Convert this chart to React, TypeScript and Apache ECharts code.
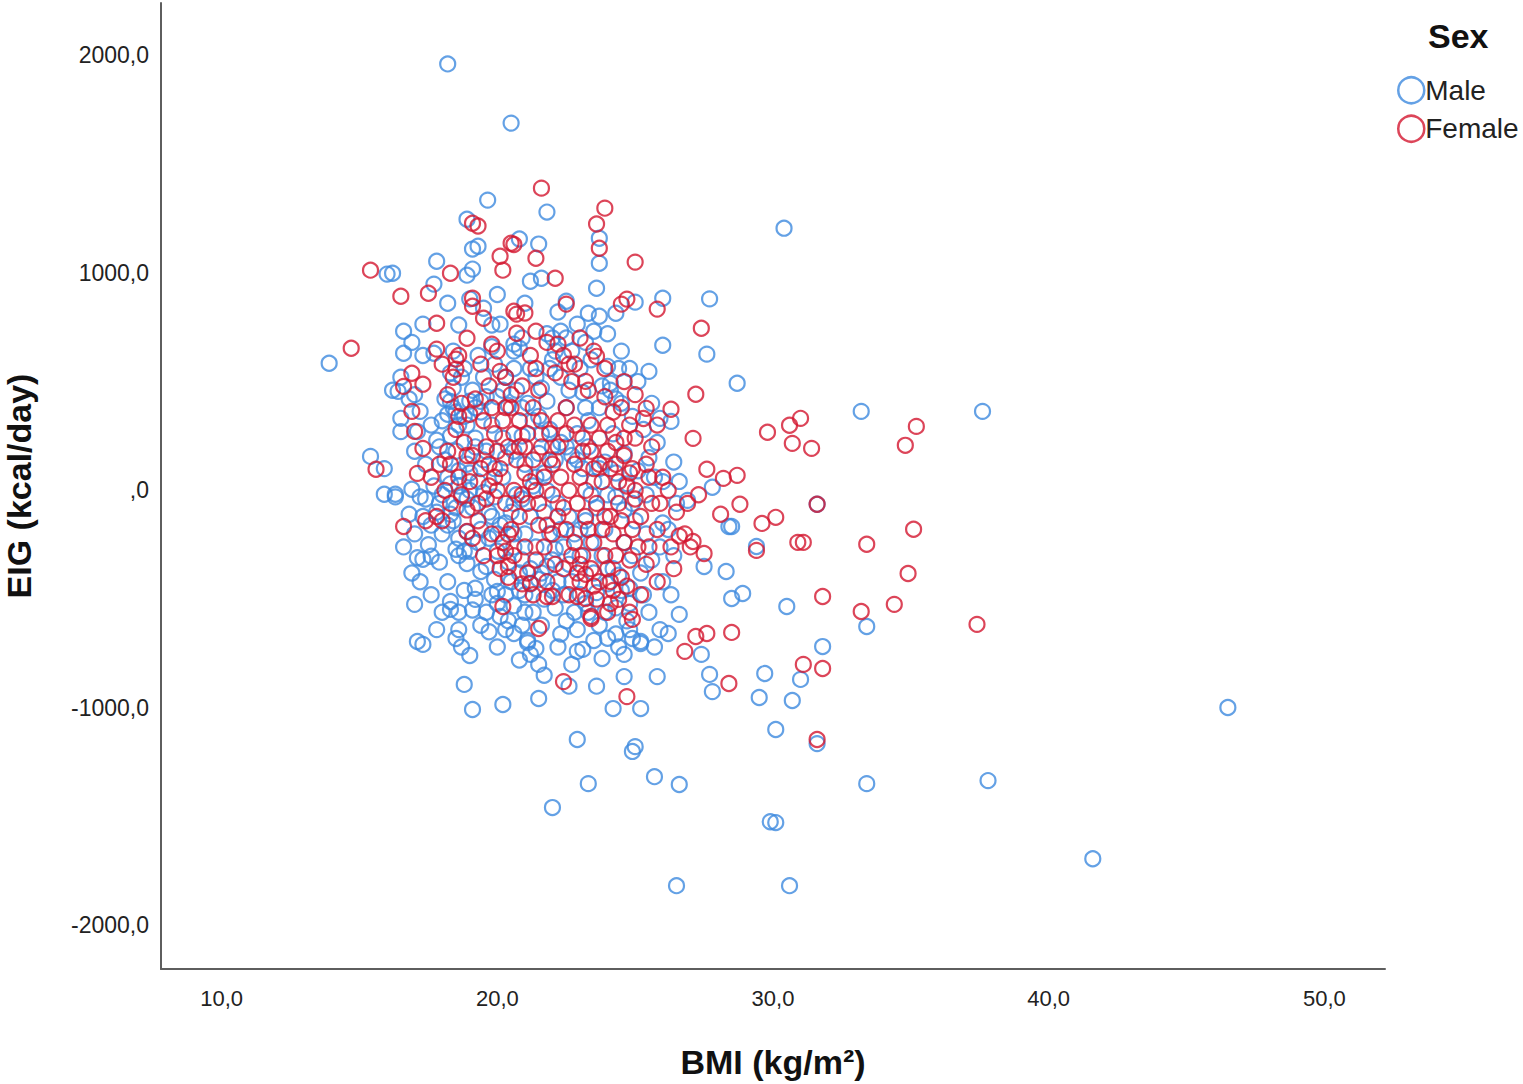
import React, { useEffect, useRef } from "react";
import * as echarts from "echarts";

// ---------- data (BMI kg/m², EIG kcal/day) ----------
const MALE_OUTER: number[][] = [
  [18.2,1960],[20.5,1688],[19.65,1334],[21.8,1279],[30.4,1205],[18.9,1246],[19.3,1122],[19.1,1109],[20.8,1155],[21.5,1132],
  [23.7,1159],[23.7,1044],[17.8,1053],[16.0,994],[16.2,998],[18.9,989],[19.1,1017],[21.2,961],[21.6,975],[23.6,929],
  [17.7,948],[26.0,883],[27.7,880],[25.0,865],[24.3,814],[22.5,869],[23.3,814],[16.6,731],[17.3,764],[23.5,731],
  [26.0,667],[27.6,626],[16.6,630],[13.9,584],[25.5,547],[17.7,630],[16.4,455],[18.3,409],[18.2,350],[19.5,837],
  [20.1,764],[22.3,731],[22.9,764],[20.6,672],[20.8,653],[22.0,700],[22.1,640],[16.5,331],[17.2,363],[15.4,156],
  [24.0,570],[26.6,41],[27.8,14],[16.5,270],[17.1,270],[19.4,409],[19.2,380],[28.7,492],[24.1,492],[33.2,363],
  [37.6,363],[26.3,317],[25.9,331],[26.9,-46],[31.6,-64],[28.4,-166],[26.0,-150],
  [15.9,-18],[16.3,-18],[16.9,5],[16.8,-110],[17.3,-317],[17.6,-303],[18.5,-271],[18.8,-280],[18.9,-336],
  [19.4,-373],[17.0,-524],[18.3,-511],[18.3,-547],[19.2,-501],[20.0,-465],[17.1,-695],[17.3,-708],[18.5,-681],
  [19.0,-759],[18.8,-892],[19.1,-1007],[20.2,-984],[21.5,-957],[20.6,-658],[21.2,-754],[21.5,-800],[22.9,-1145],
  [25.0,-1178],[24.9,-1200],[23.3,-1348],[22.0,-1458],[25.7,-1316],[26.6,-1352],[24.2,-1003],[25.2,-1003],
  [24.6,-856],[25.8,-856],[23.8,-773],[24.6,-754],[22.7,-800],[23.1,-731],[26.6,-570],[26.2,-658],[27.4,-754],
  [27.7,-846],[27.8,-925],[25.2,-695],[24.9,-681],[22.9,-740],[21.4,-727],[21.1,-700],[28.5,-166],[27.5,-350],
  [28.3,-373],[28.5,-497],[28.9,-474],[30.5,-534],[24.8,-640],[25.2,-704],[24.3,-660],[29.7,-842],[31.0,-869],
  [29.5,-952],[30.7,-966],[30.1,-1099],[31.8,-718],[33.4,-626],[31.6,-1164],[33.4,-1348],[37.8,-1334],
  [29.9,-1523],[30.1,-1527],[29.4,-258],[26.5,-1817],[30.6,-1817],[46.5,-998],[41.6,-1693],
];

const MALE_CORE: number[][] = [
  [18.1,420],[18.4,380],[18.6,300],[18.3,250],[18.8,340],[19.0,410],[18.5,180],[18.9,120],[18.2,60],[18.7,-30],
  [19.1,-80],[18.4,-140],[18.9,-190],[19.3,-240],[18.6,-300],[19.6,-350],[19.9,-410],[19.2,-450],[20.3,-480],[20.6,-530],
  [20.1,-580],[20.9,-620],[21.3,-560],[21.7,-500],[22.1,-540],[22.5,-600],[22.8,-560],[23.2,-520],[23.6,-470],[24.0,-430],
  [24.4,-390],[24.8,-450],[25.2,-380],[25.6,-320],[25.9,-260],[25.4,-200],[25.0,-140],[24.6,-90],[24.3,-30],[24.7,30],
  [25.1,90],[25.5,150],[25.8,220],[25.3,280],[24.9,340],[24.5,400],[24.1,460],[23.7,380],[23.3,320],[22.9,260],
  [22.5,200],[22.1,140],[21.7,80],[21.3,20],[20.9,-40],[20.5,-100],[20.1,-160],[19.7,-220],[20.0,-280],[20.4,-330],
  [20.8,-380],[21.2,-430],[21.6,-380],[22.0,-320],[22.4,-260],[22.8,-200],[23.2,-140],[23.6,-80],[24.0,-20],[23.5,40],
  [23.1,100],[22.7,160],[22.3,220],[21.9,280],[21.5,340],[21.1,400],[20.7,460],[20.3,520],[19.9,580],[19.5,520],
  [19.1,460],[19.4,360],[19.8,300],[20.2,240],[20.6,180],[21.0,120],[21.4,60],[21.8,0],[22.2,-60],[22.6,-120],
  [23.0,-180],[23.4,-240],[23.8,-300],[24.2,-360],[24.6,-240],[24.9,-300],[23.9,-180],[23.0,-300],[22.2,-420],[21.4,-260],
  [20.6,-200],[19.8,-120],[19.5,-10],[20.2,60],[20.9,250],[21.6,470],[22.3,520],[22.7,640],[23.0,560],[23.4,600],
  [22.0,600],[21.2,560],[20.6,640],[19.8,660],[24.2,260],[24.6,170],[23.9,130],[24.4,560],[23.1,450],[22.5,380],
  [21.8,410],[20.4,390],[19.6,180],[19.2,240],[18.7,520],[18.3,540],[17.6,300],[17.9,200],[17.4,120],[17.7,20],
  [17.9,-60],[18.3,-110],[17.5,-250],[17.9,-330],[18.2,-420],[17.6,-160],[20.0,-520],[21.0,-480],[22.0,-460],[23.5,-380],
  [24.3,-540],[24.7,-600],[25.3,-480],[26.0,-420],[26.4,-300],[26.2,-180],[26.5,-60],[26.0,40],[26.4,130],[25.6,400],
  [22.6,-340],[21.9,-200],[21.2,-120],[20.7,-20],[21.5,170],[20.0,430],[19.3,620],[18.4,640],[19.0,0],[18.0,-200],
  [20.3,-640],[21.1,-690],[22.3,-660],[19.6,-560],[18.8,-460],[17.2,-30],[17.0,180],[16.8,420],[17.3,620],[16.9,680],
  [18.6,760],[19.8,760],[20.9,700],[21.8,720],[22.5,700],[23.2,680],[24.5,640],[24.0,720],[23.7,800],[22.2,820],
  [21.0,860],[20.0,900],[19.0,880],[18.2,860],[16.2,460],[17.0,440],[16.5,520],[15.9,100],[16.3,-30],[17.3,-120],
  [17.0,-200],[16.6,-260],[17.1,-310],[18.6,-560],[19.4,-620],[18.6,-640],
];

const MALE_EXTRA: number[][] = [
  [17.4,-40],[17.8,-100],[18.0,-20],[18.3,30],[18.6,90],[18.1,140],[17.8,230],[18.0,320],[18.5,360],[18.9,300],
  [19.2,200],[19.5,140],[19.0,80],[18.6,20],[18.9,-40],[18.5,-80],[18.2,-160],[18.6,-220],[19.0,-280],[19.4,-180],
  [19.7,-100],[19.9,-30],[19.3,40],[20.0,-200],[20.3,-150],[20.6,-260],[20.9,-320],[21.2,-360],[20.5,-420],[20.8,-460],
  [21.5,-410],[21.8,-350],[22.1,-270],[22.4,-480],[22.7,-420],[23.0,-480],[23.3,-560],[23.7,-620],[24.0,-680],[24.4,-720],
  [23.5,-690],[22.9,-640],[22.2,-720],[21.6,-620],[21.0,-560],[20.4,-600],[19.8,-480],[19.1,-550],[19.7,-650],[20.0,-720],
  [20.8,-780],[21.7,-850],[22.6,-900],[23.6,-900],[25.5,-560],[25.9,-640],[26.3,-480],[25.7,-720],[24.8,-520],[24.5,-460],
  [23.9,-560],[18.4,470],[18.8,560],[19.6,430],[20.2,460],[20.6,560],[21.4,520],[21.9,560],[22.6,460],[23.2,380],
  [23.8,480],[24.3,420],[24.8,560],[25.1,500],[22.9,140],[23.3,200],[23.7,100],[22.0,200],[21.6,260],[21.3,320],
  [20.9,380],[20.3,150],[19.9,100],[20.6,-60],[21.0,-200],[21.7,-100],[22.3,-180],[23.4,-20],[24.3,80],[24.9,-60],
  [25.4,-20],[25.7,60],[17.2,-420],[16.9,-380],[17.6,-480],[18.0,-560],[18.7,-720],[17.8,-640],
];

const FEMALE_OUTER: number[][] = [
  [21.6,1389],[23.9,1297],[19.1,1228],[19.3,1215],[23.6,1224],[23.7,1113],[20.5,1136],[20.6,1130],[20.1,1076],[20.2,1012],
  [21.4,1067],[22.1,975],[25.0,1049],[15.4,1012],[18.3,998],[16.5,892],[17.5,906],[19.1,883],[19.1,846],[22.5,856],
  [24.7,879],[24.5,856],[20.6,823],[20.7,810],[21.0,815],[25.8,833],[17.8,768],[19.5,791],[21.4,731],[27.4,745],
  [14.7,653],[17.8,649],[18.9,699],[18.5,603],[18.5,557],[20.7,722],[19.8,672],[20.1,547],[22.2,672],[22.6,580],
  [23.6,616],[16.9,538],[16.6,478],[17.3,488],[16.9,363],[17.0,271],[17.3,193],[15.6,97],[17.1,78],[27.2,442],
  [27.1,239],[27.6,97],[23.2,501],[25.4,377],[26.3,373],[29.8,267],[30.6,299],[31.0,331],[30.7,216],[31.4,193],
  [35.2,294],[34.8,207],[28.2,55],[28.7,69],[28.8,-64],[28.1,-110],[29.6,-152],[30.1,-124],[31.6,-64],[35.1,-179],
  [33.4,-248],[30.9,-239],[31.1,-239],[29.4,-276],[34.9,-382],[31.8,-488],[33.2,-557],[34.4,-524],[37.4,-616],[27.6,-658],
  [27.2,-672],[26.8,-740],[28.5,-653],[31.1,-800],[31.8,-819],[28.4,-888],[24.7,-948],[31.6,-1145],[24.9,-593],[24.8,-560],
  [16.6,-166],[17.8,-120],[18.9,-189],[20.2,-534],[21.5,-635],[22.4,-879],[23.4,-589],[21.8,-488],[22.0,-488],[24.4,-501],
  [24.1,-419],[23.2,-497],[22.9,-488],[20.4,-202],[20.3,-280],[20.4,-350],[21.2,-428],[23.0,-340],[23.2,-386],[26.6,-210],
  [27.1,-235],[27.5,-290],[26.9,-60],[27.3,-20],
];

const FEMALE_CORE: number[][] = [
  [18.5,280],[18.8,220],[19.1,160],[19.4,100],[19.0,40],[18.7,-20],[18.9,-90],[19.3,-140],[19.6,200],[19.9,260],
  [20.2,320],[20.5,380],[20.8,320],[21.1,260],[20.4,200],[20.7,140],[21.0,80],[21.3,140],[21.6,200],[21.9,260],
  [22.2,320],[22.5,380],[22.8,300],[23.1,240],[23.4,180],[23.7,240],[24.0,300],[24.3,220],[24.6,160],[24.1,100],
  [23.8,40],[23.5,100],[23.2,0],[22.9,-60],[22.6,0],[22.3,60],[22.0,120],[21.7,60],[21.4,0],[21.1,-60],
  [20.8,-120],[20.5,-180],[20.2,-240],[20.0,-300],[20.3,-60],[20.6,0],[19.9,60],[19.6,-40],[22.2,-120],[22.5,-180],
  [22.8,-240],[23.1,-300],[23.4,-360],[23.7,-420],[24.0,-360],[24.3,-300],[24.6,-240],[24.9,-180],[25.2,-120],[25.0,-40],
  [24.7,20],[24.4,-60],[24.1,-120],[23.8,-180],[23.5,-240],[23.2,-120],[22.0,-200],[21.7,-260],[21.4,-320],[21.1,-380],
  [21.8,-420],[22.4,-360],[23.0,-420],[23.6,-500],[24.2,-460],[24.5,-400],[25.5,-260],[25.8,-180],[25.6,-60],[26.0,60],
  [25.4,120],[25.0,240],[24.8,300],[25.3,330],[24.5,380],[23.9,430],[23.3,460],[22.7,500],[22.1,540],[21.5,460],
  [20.9,480],[20.3,520],[19.7,480],[19.2,420],[18.7,400],[18.2,440],[18.4,520],[18.0,580],[18.6,620],[19.4,580],
  [20.0,640],[21.2,620],[21.8,680],[22.4,620],[23.0,700],[23.9,560],[24.6,500],[25.0,440],[17.9,120],[17.6,60],
  [18.1,0],[18.3,-60],[18.0,-140],[17.4,-140],[20.9,-430],[21.3,-480],[22.6,-480],[20.4,-400],[19.5,-300],[19.1,-220],
  [19.5,320],[19.0,350],[18.2,180],[20.1,100],[20.8,200],[21.5,-160],[22.0,-20],[23.0,60],[24.4,40],[24.8,80],
  [25.8,300],[26.2,0],[26.5,-100],[26.8,-200],[27.0,-260],[26.4,-360],[25.8,-420],[25.2,-480],[24.0,-560],[23.4,-580],
];

const FEMALE_EXTRA: number[][] = [
  [18.3,120],[18.6,60],[19.7,120],[20.0,180],[20.3,380],[20.6,260],[21.0,200],[21.3,380],[21.6,320],[21.9,140],
  [22.2,200],[22.5,260],[22.8,120],[23.1,180],[23.4,300],[23.7,120],[24.0,180],[24.3,120],[24.6,240],[24.9,100],
  [23.6,-60],[23.9,-120],[24.2,-200],[24.5,-140],[24.8,-320],[25.1,-260],[25.4,-340],[24.7,-440],[23.9,-300],[23.3,-180],
  [22.7,-300],[22.4,-80],[22.1,-340],[21.8,-160],[21.5,-60],[21.2,40],[20.9,-20],[20.6,-300],[20.1,-360],[19.8,-200],
  [19.3,-60],[19.7,20],[18.9,160],[18.6,340],[20.0,0],[21.0,-260],[22.9,-380],[23.5,-440],[24.1,-520],[25.0,0],
  [25.5,60],[25.9,-60],[26.3,-260],[21.4,560],[22.8,580],[23.5,640],[19.8,380],[20.5,440],[24.2,360],[25.6,200],
];

const MALE = [...MALE_OUTER, ...MALE_CORE, ...MALE_EXTRA];
const FEMALE = [...FEMALE_OUTER, ...FEMALE_CORE, ...FEMALE_EXTRA];

const X_TICKS = [10, 20, 30, 40, 50];
const Y_TICKS = [-2000, -1000, 0, 1000, 2000];
const SERIES_NAMES = ["Male", "Female"];

const BLUE = "#3d8ade";
const RED = "#d3172f";
const FONT = "'Liberation Sans', Arial, sans-serif";

function fmt(v: number): string {
  if (v === 0) return ",0";
  return v.toFixed(1).replace(".", ",");
}

export default function App() {
  const ref = useRef<HTMLDivElement>(null);
  useEffect(() => {
    if (!ref.current) return;
    const chart = echarts.init(ref.current, undefined, { renderer: "svg" });
    const markerStyle = (c: string) => ({ color: "rgba(255,255,255,0)", borderColor: c, borderWidth: 2.2 });
    chart.setOption({
      animation: false,
      backgroundColor: "#ffffff",
      grid: { left: 161, right: 138, top: 3, bottom: 115, containLabel: false, outerBoundsMode: "none" },
      title: {
        text: "Sex",
        left: 1423,
        top: 14,
        textStyle: { fontFamily: FONT, fontSize: 34, fontWeight: "bold", color: "#111" },
      },
      legend: {
        orient: "vertical",
        left: 1392,
        top: 71,
        itemWidth: 26,
        itemHeight: 26,
        itemGap: 10,
        selectedMode: false,
        textStyle: { fontFamily: FONT, fontSize: 28, color: "#222", padding: [0, 0, 0, -4] },
        data: [
          { name: SERIES_NAMES[0], icon: "circle", itemStyle: { color: "rgba(255,255,255,0)", borderColor: BLUE, borderWidth: 2.5 } },
          { name: SERIES_NAMES[1], icon: "circle", itemStyle: { color: "rgba(255,255,255,0)", borderColor: RED, borderWidth: 2.5 } },
        ],
      },
      xAxis: {
        type: "value",
        min: 7.8,
        max: 52.2,
        name: "BMI (kg/m²)",
        nameLocation: "middle",
        nameGap: 76,
        nameTextStyle: { fontFamily: FONT, fontSize: 34, fontWeight: "bold", color: "#111" },
        axisLine: { show: true, onZero: false, lineStyle: { color: "#5e5e5e", width: 2 } },
        axisTick: { show: false },
        splitLine: { show: false },
        axisLabel: {
          customValues: X_TICKS,
          margin: 18,
          fontFamily: FONT,
          fontSize: 22,
          color: "#222",
          formatter: (v: number) => (X_TICKS.includes(v) ? fmt(v) : ""),
        },
      },
      yAxis: {
        type: "value",
        min: -2200,
        max: 2240,
        name: "EIG (kcal/day)",
        nameLocation: "middle",
        nameGap: 125,
        nameRotate: 90,
        nameTextStyle: { fontFamily: FONT, fontSize: 34, fontWeight: "bold", color: "#111" },
        axisLine: { show: true, onZero: false, lineStyle: { color: "#5e5e5e", width: 2 } },
        axisTick: { show: false },
        splitLine: { show: false },
        axisLabel: {
          customValues: Y_TICKS,
          margin: 12,
          fontFamily: FONT,
          fontSize: 23,
          color: "#222",
          formatter: (v: number) => (Y_TICKS.includes(v) ? fmt(v) : ""),
        },
      },
      series: [
        {
          name: SERIES_NAMES[0],
          type: "scatter",
          symbol: "circle",
          symbolSize: 15,
          data: MALE,
          itemStyle: markerStyle(BLUE),
          emphasis: { disabled: true },
        },
        {
          name: SERIES_NAMES[1],
          type: "scatter",
          symbol: "circle",
          symbolSize: 15,
          data: FEMALE,
          itemStyle: markerStyle(RED),
          emphasis: { disabled: true },
        },
      ],
    });
    return () => chart.dispose();
  }, []);
  return (
    <div
      ref={ref}
      style={{ position: "fixed", left: 0, top: 0, width: 1523, height: 1084, background: "#fff" }}
    />
  );
}
